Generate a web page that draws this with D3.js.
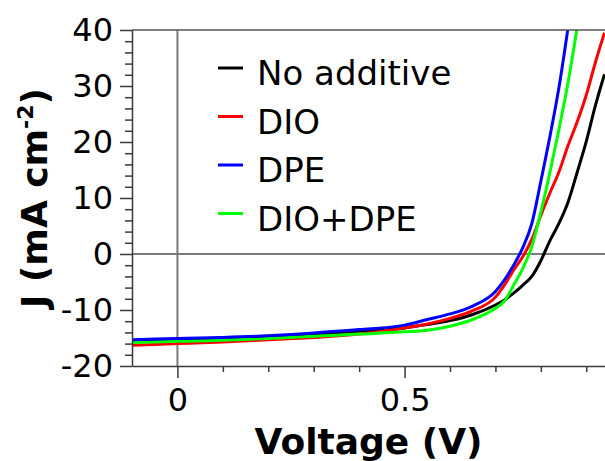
<!DOCTYPE html>
<html lang="en">
<head>
  <meta charset="UTF-8">
  <title>J-V curves</title>
  <script src="https://d3js.org/d3.v7.min.js"></script>
  <style>
    body { margin: 0; background: #fff; }
    svg { display: block; font-family: "DejaVu Sans", Verdana, sans-serif; }
  </style>
</head>
<body>
<svg id="chart" width="605" height="461"></svg>
<script>
  // Series data (voltage in V, J in mA cm^-2)
  const vBlack = [-0.1, 0, 0.1, 0.2, 0.3, 0.4, 0.5, 0.55, 0.6, 0.65, 0.7, 0.72, 0.74, 0.76, 0.78, 0.8, 0.82, 0.84, 0.86, 0.88, 0.9, 0.92, 0.94];
  const jBlack = [-15.5, -15.3, -15.0, -14.7, -14.3, -13.8, -13.2, -12.6, -11.9, -10.8, -9.1, -8.2, -7.0, -5.6, -4.0, -1.2, 2.4, 5.5, 9.3, 14.6, 20.1, 26.5, 32.1];

  const vRed = [-0.1, 0, 0.1, 0.2, 0.3, 0.4, 0.5, 0.55, 0.6, 0.65, 0.7, 0.72, 0.74, 0.76, 0.78, 0.8, 0.82, 0.84, 0.86, 0.88, 0.9, 0.92, 0.94];
  const jRed = [-16.3, -16.0, -15.7, -15.3, -14.9, -14.3, -13.2, -12.5, -11.5, -10.1, -7.7, -5.5, -2.9, -0.5, 2.6, 6.9, 10.9, 14.7, 19.4, 23.6, 28.4, 34.2, 39.5];

  const vBlue = [-0.1, 0, 0.1, 0.2, 0.3, 0.4, 0.5, 0.55, 0.6, 0.65, 0.7, 0.72, 0.74, 0.76, 0.78, 0.8, 0.82, 0.84, 0.86];
  const jBlue = [-15.3, -15.1, -14.9, -14.6, -14.1, -13.5, -12.7, -11.7, -10.7, -9.3, -6.7, -4.6, -2.0, 1.1, 5.4, 13.0, 21.0, 29.8, 40.5];

  const vGreen = [-0.1, 0, 0.1, 0.2, 0.3, 0.4, 0.5, 0.55, 0.6, 0.65, 0.7, 0.72, 0.74, 0.76, 0.78, 0.8, 0.82, 0.84, 0.86, 0.88];
  const jGreen = [-15.8, -15.6, -15.4, -15.1, -14.7, -14.3, -13.9, -13.6, -12.9, -11.7, -9.7, -8.4, -5.6, -2.6, 1.3, 7.5, 14.6, 22.3, 30.7, 40.5];

  const seriesNames = ["No additive", "DIO", "DPE", "DIO+DPE"];
  const seriesColors = ["#000000", "#ff0000", "#0000ff", "#00ff00"];

  const xMajorTicks = [0, 0.5];
  const xMajorLabels = ["0", "0.5"];
  const xMinorTicks = [0.1, 0.2, 0.3, 0.4, 0.6, 0.7, 0.8, 0.9];
  const yMajorTicks = [-20, -10, 0, 10, 20, 30, 40];
  const yMajorLabels = ["-20", "-10", "0", "10", "20", "30", "40"];
  const yMinorTicks = [-18, -16, -14, -12, -8, -6, -4, -2, 2, 4, 6, 8, 12, 14, 16, 18, 22, 24, 26, 28, 32, 34, 36, 38];

  const svg = d3.select("#chart");
  const plotLeft = 132, plotRight = 609, plotTop = 30, plotBottom = 366;
  const axisColor = "#3a3a3a";

  const x = d3.scaleLinear().domain([-0.1, 0.95]).range([plotLeft, plotRight]);
  const y = d3.scaleLinear().domain([-20, 40]).range([plotBottom, plotTop]);

  svg.append("clipPath").attr("id", "plot-clip")
    .append("rect")
    .attr("x", plotLeft).attr("y", plotTop)
    .attr("width", plotRight - plotLeft).attr("height", plotBottom - plotTop);

  // zero reference lines
  svg.append("line")
    .attr("x1", plotLeft).attr("x2", plotRight)
    .attr("y1", y(0)).attr("y2", y(0))
    .attr("stroke", "#7a7a7a").attr("stroke-width", 2);
  svg.append("line")
    .attr("x1", x(0)).attr("x2", x(0))
    .attr("y1", plotTop).attr("y2", plotBottom)
    .attr("stroke", "#7a7a7a").attr("stroke-width", 2);

  // curves
  const series = [
    { v: vBlack, j: jBlack, color: seriesColors[0] },
    { v: vRed, j: jRed, color: seriesColors[1] },
    { v: vGreen, j: jGreen, color: seriesColors[3] },
    { v: vBlue, j: jBlue, color: seriesColors[2] }
  ];
  const line = d3.line()
    .x(d => x(d[0]))
    .y(d => y(d[1]))
    .curve(d3.curveMonotoneX);

  svg.append("g").attr("clip-path", "url(#plot-clip)")
    .selectAll("path")
    .data(series)
    .enter()
    .append("path")
    .attr("d", s => line(s.v.map((v, i) => [v, s.j[i]])))
    .attr("fill", "none")
    .attr("stroke", s => s.color)
    .attr("stroke-width", 3)
    .attr("stroke-linejoin", "round");

  // top border
  svg.append("line")
    .attr("x1", plotLeft).attr("x2", plotRight)
    .attr("y1", plotTop).attr("y2", plotTop)
    .attr("stroke", "#555").attr("stroke-width", 1.5);

  // y axis
  svg.append("g")
    .attr("transform", `translate(${plotLeft},0)`)
    .call(d3.axisLeft(y).tickValues(yMajorTicks)
      .tickFormat((d, i) => yMajorLabels[i])
      .tickSize(12).tickSizeOuter(0).tickPadding(7));
  svg.append("g")
    .attr("transform", `translate(${plotLeft},0)`)
    .call(d3.axisLeft(y).tickValues(yMinorTicks).tickFormat("").tickSize(7).tickSizeOuter(0))
    .call(g => g.select(".domain").remove());

  // x axis
  svg.append("g")
    .attr("transform", `translate(0,${plotBottom})`)
    .call(d3.axisBottom(x).tickValues(xMajorTicks)
      .tickFormat((d, i) => xMajorLabels[i])
      .tickSize(12).tickSizeOuter(0).tickPadding(10));
  svg.append("g")
    .attr("transform", `translate(0,${plotBottom})`)
    .call(d3.axisBottom(x).tickValues(xMinorTicks).tickFormat("").tickSize(6).tickSizeOuter(0))
    .call(g => g.select(".domain").remove());

  svg.selectAll(".domain, .tick line")
    .attr("stroke", axisColor).attr("stroke-width", 1.5);
  svg.selectAll(".tick text")
    .attr("font-family", "DejaVu Sans, Verdana, sans-serif")
    .attr("font-size", 32)
    .attr("fill", "#000");

  // axis titles
  svg.append("text")
    .attr("x", (plotLeft + 605) / 2)
    .attr("y", 454)
    .attr("text-anchor", "middle")
    .attr("font-size", 36)
    .attr("font-weight", "bold")
    .text("Voltage (V)");

  const yTitle = svg.append("text")
    .attr("transform", `translate(47,${(plotTop + plotBottom) / 2}) rotate(-90)`)
    .attr("text-anchor", "middle")
    .attr("font-size", 36)
    .attr("font-weight", "bold");
  yTitle.append("tspan").text("J (mA cm");
  yTitle.append("tspan").attr("font-size", 22).attr("dy", -14).text("-2");
  yTitle.append("tspan").attr("dy", 14).text(")");

  // legend
  const legend = svg.append("g").attr("transform", "translate(218,68)");
  const rows = legend.selectAll("g")
    .data(seriesNames)
    .enter()
    .append("g")
    .attr("transform", (d, i) => `translate(0,${i * 48.5})`);
  rows.append("line")
    .attr("x1", 0).attr("x2", 25)
    .attr("stroke", (d, i) => seriesColors[i])
    .attr("stroke-width", 3);
  rows.append("text")
    .attr("x", 39)
    .attr("y", 17)
    .attr("font-size", 34)
    .text(d => d);
</script>
</body>
</html>
